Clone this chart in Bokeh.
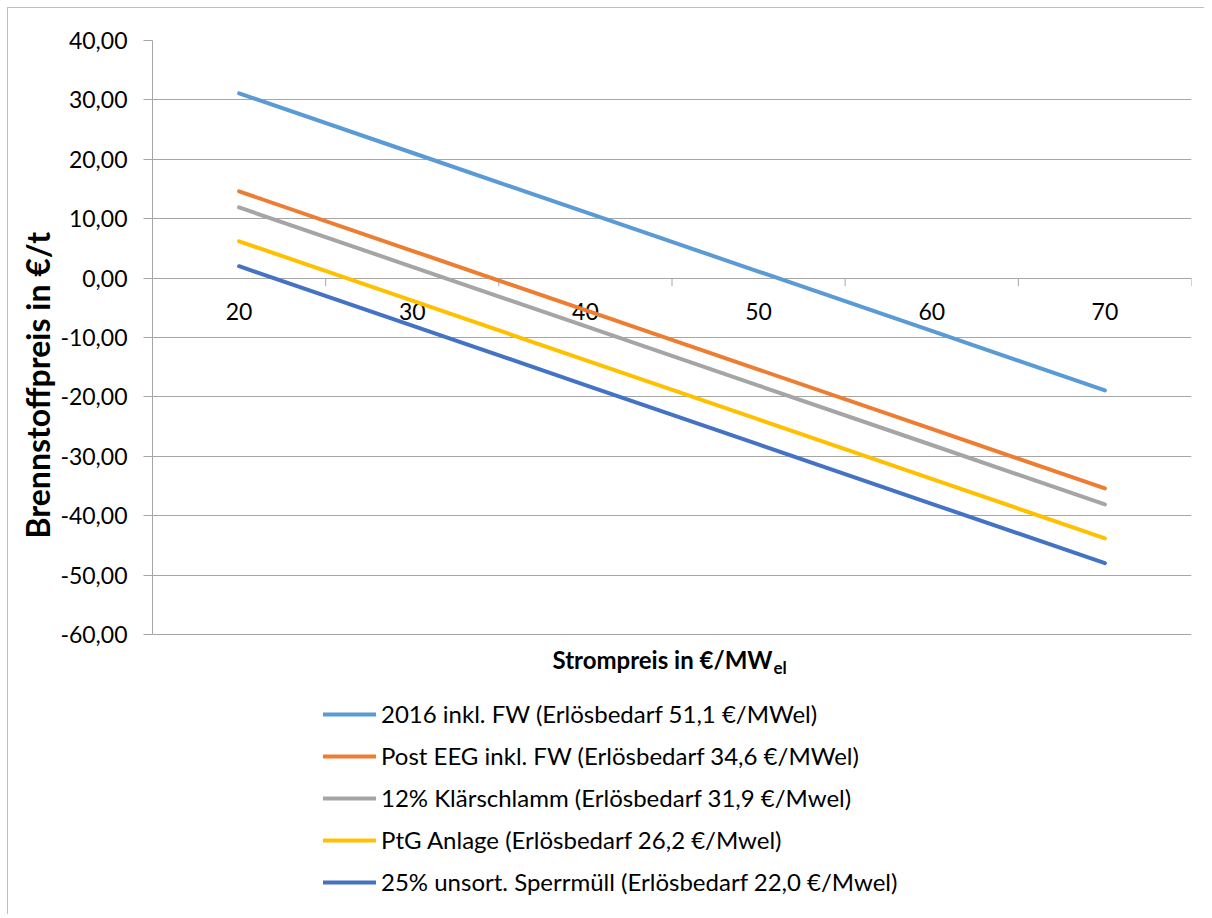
import numpy as np
from bokeh.plotting import figure
from bokeh.layouts import row
from bokeh.models import Range1d, FixedTicker, CustomJSTickFormatter, Legend, LegendItem, Label
from bokeh.core.properties import value
from bokeh.embed import file_html
from bokeh.resources import INLINE

# ---- data ----
strompreis = [20, 30, 40, 50, 60, 70]
x_labels = ["20", "30", "40", "50", "60", "70"]
y_ticks = [-60, -50, -40, -30, -20, -10, 0, 10, 20, 30, 40]

s2016 = [31.1, 21.1, 11.1, 1.1, -8.9, -18.9]
post_eeg = [14.6, 4.6, -5.4, -15.4, -25.4, -35.4]
klaerschlamm = [11.9, 1.9, -8.1, -18.1, -28.1, -38.1]
ptg = [6.2, -3.8, -13.8, -23.8, -33.8, -43.8]
sperrmuell = [2.0, -8.0, -18.0, -28.0, -38.0, -48.0]

series_names = [
    "2016 inkl. FW (Erlösbedarf 51,1 €/MWel)",
    "Post EEG inkl. FW (Erlösbedarf 34,6 €/MWel)",
    "12% Klärschlamm (Erlösbedarf 31,9 €/Mwel)",
    "PtG Anlage (Erlösbedarf 26,2 €/Mwel)",
    "25% unsort. Sperrmüll (Erlösbedarf 22,0 €/Mwel)",
]
series_values = [s2016, post_eeg, klaerschlamm, ptg, sperrmuell]
colors = ["#5B9BD5", "#ED7D31", "#A5A5A5", "#FFC000", "#4472C4"]

y_title = "Brennstoffpreis in €/t"
x_title = "Strompreis in €/MW"
x_title_sub = "el"

FONT = "Lato"
GRID = "#a6a6a6"
TICK_SIZE = "23px"

# ---- layout (pixels) ----
TOTAL_H = 906          # figure height
TOP = 32               # space above plot area
PLOT_AREA_H = 594      # height of the gridded plot area
FRAME_H = TOTAL_H - TOP
STRIP_W = 49           # strip holding the y title
LEFT = 95              # space for y tick labels

step = strompreis[1] - strompreis[0]
x_min = strompreis[0] - step / 2
x_max = strompreis[-1] + step / 2
edges = [v + step / 2 for v in strompreis]
# extend the frame downward (below the gridded area) so legend/title live inside it
y_span = y_ticks[-1] - y_ticks[0]
y_lo = y_ticks[-1] - y_span * FRAME_H / PLOT_AREA_H

# ---- y title strip ----
p_y = figure(width=STRIP_W, height=TOTAL_H, x_range=Range1d(0, 1), y_range=Range1d(0, 1),
             x_axis_type=None, y_axis_type=None, output_backend="svg",
             toolbar_location=None, min_border=0)
p_y.outline_line_color = None
p_y.grid.visible = False
p_y.add_layout(Label(x=29, y=376, x_units="screen", y_units="screen", text=y_title,
                     angle=np.pi / 2, text_align="left", text_baseline="middle",
                     text_font=FONT, text_font_size="32px", text_font_style="bold",
                     text_color="black"))

# ---- main plot ----
p = figure(width=1196 - STRIP_W, height=TOTAL_H,
           x_range=Range1d(x_min, x_max), y_range=Range1d(y_lo, y_ticks[-1]),
           output_backend="svg", toolbar_location=None,
           min_border_left=LEFT, min_border_top=TOP, min_border_right=13, min_border_bottom=0)
p.outline_line_color = None
p.xaxis.visible = False
p.xgrid.visible = False
p.ygrid.grid_line_color = GRID
p.ygrid.grid_line_width = 1

p.yaxis.ticker = FixedTicker(ticks=y_ticks, minor_ticks=[])
p.yaxis.bounds = (y_ticks[0], y_ticks[-1])
p.yaxis.formatter = CustomJSTickFormatter(code="return tick.toFixed(2).replace('.', ',');")
p.yaxis.axis_line_color = GRID
p.yaxis.major_tick_line_color = GRID
p.yaxis.major_tick_out = 9
p.yaxis.major_tick_in = 0
p.yaxis.minor_tick_out = 0
p.yaxis.minor_tick_in = 0
p.yaxis.major_label_text_font = FONT
p.yaxis.major_label_text_font_size = TICK_SIZE
p.yaxis.major_label_text_color = "black"
p.yaxis.major_label_standoff = 16

# category axis crossing at y = 0
p.ray(x=edges, y=[0] * len(edges), length=8, length_units="screen",
      angle=-np.pi / 2, line_color=GRID, line_width=1)
p.text(x=strompreis, y=[0] * len(strompreis), text=x_labels,
       text_font=value(FONT), text_font_size=TICK_SIZE, text_color="black",
       text_align="center", text_baseline="top", y_offset=25)

items = []
for name, vals, col in zip(series_names, series_values, colors):
    r = p.line(strompreis, vals, line_color=col, line_width=4, line_cap="round")
    items.append(LegendItem(label=name, renderers=[r]))

# x axis title (with subscript)
p.add_layout(Label(x=400, y=255, x_units="screen", y_units="screen",
                   text=x_title, text_align="left", text_baseline="middle",
                   text_font=FONT, text_font_size="24px", text_font_style="bold",
                   text_color="black"))
p.add_layout(Label(x=621, y=247, x_units="screen", y_units="screen",
                   text=x_title_sub, text_align="left", text_baseline="middle",
                   text_font=FONT, text_font_size="17px", text_font_style="bold",
                   text_color="black"))

legend = Legend(items=items, location=(171, 18), orientation="vertical",
                padding=0, margin=0, border_line_alpha=0, background_fill_alpha=0,
                label_text_font=FONT, label_text_font_size="24px", label_text_color="black",
                glyph_width=53, glyph_height=28, label_height=28, spacing=13,
                label_standoff=5)
p.add_layout(legend)

root = row(p_y, p,
           styles={"margin-left": "7px", "margin-top": "7px",
                   "border-left": "1px solid #bfbfbf", "border-top": "1px solid #bfbfbf"})

open("out.html", "w").write(file_html(root, INLINE))
